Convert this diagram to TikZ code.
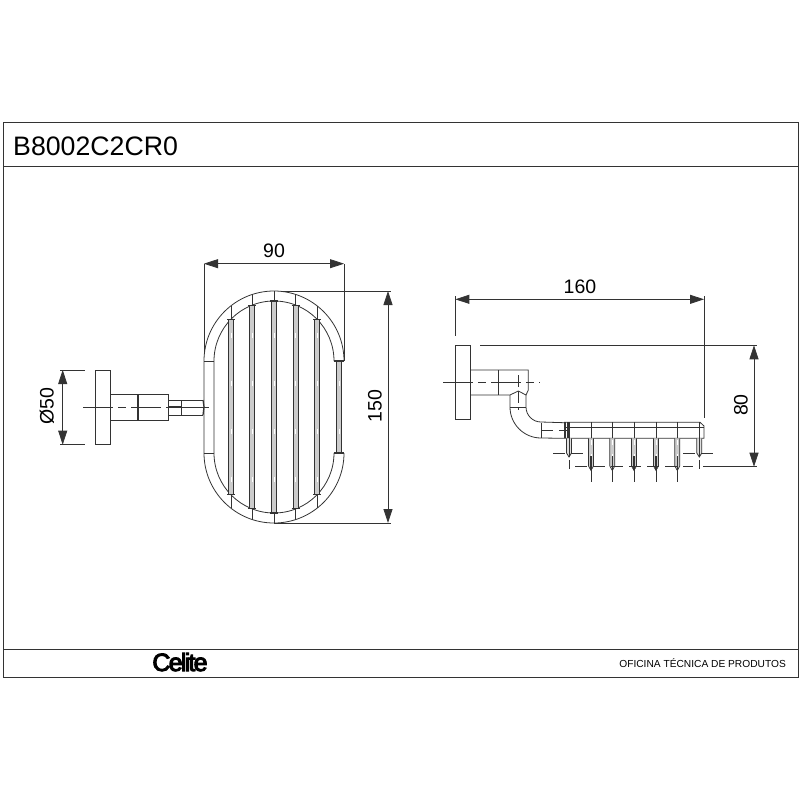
\documentclass[tikz,border=0pt]{standalone}
\usepackage{fontspec}
\usepackage{tikz}
\usetikzlibrary{arrows.meta}
\setmainfont{Liberation Sans}
\newfontfamily\logofont[FakeBold=4,LetterSpace=-7]{Liberation Sans}

\definecolor{inkline}{HTML}{333333}
\tikzset{
	part/.style={draw=inkline,line width=0.8pt},
	heavy/.style={draw=inkline,line width=1.2pt},
	dimline/.style={draw=inkline,line width=0.8pt,{Triangle[length=14pt,width=9pt]}-{Triangle[length=14pt,width=9pt]}},
	extline/.style={draw=inkline,line width=0.8pt},
	centerline/.style={draw=inkline,line width=0.8pt,dash pattern=on 30pt off 5pt on 8pt off 5pt},
	hiddenline/.style={draw=inkline,line width=0.9pt,dash pattern=on 12pt off 6pt},
	dimtext/.style={inner sep=0pt,font=\fontsize{19.5}{21}\selectfont},
	rodfill/.style={fill=gray!40,draw=inkline,line width=0.7pt},
	rodmark/.style={draw=white,line width=1pt,dash pattern=on 5pt off 43pt}
}

\begin{document}
\begin{tikzpicture}[x=1pt,y=-1pt]
		\useasboundingbox (0,0) rectangle (800,800);

		\draw[part] (3,122) rectangle (798,677);
		\draw[part] (3,166) -- (798,166);
		\draw[part] (3,649) -- (798,649);
		\node[anchor=base west,inner sep=0pt,font=\fontsize{26.7}{28}\selectfont] (title) at (13,155) {B8002C2CR0};
		\node[anchor=base,inner sep=0pt,font=\fontsize{25}{26}\logofont] (logo) at (180,671) {Celite};
		\node[anchor=base east,inner sep=0pt,font=\fontsize{10.2}{11}\selectfont] (office) at (786,667) {OFICINA TÉCNICA DE PRODUTOS};

		\draw[part] (204,453) -- (204,361) arc (180:360:70);
		\draw[part] (214,453) -- (214,361) arc (180:360:60);
		\draw[part] (204,453) arc (180:0:70);
		\draw[part] (214,453) arc (180:0:60);
		\draw[part] (204,361) -- (214,361);
		\draw[part] (204,453) -- (214,453);

		\foreach \xs/\yo/\yi/\yj/\yp in {231/305.8/319.2/494.8/508.2, 252/294.4/305.2/508.8/519.6, 274/291/301/513/523, 295.5/294.4/305.2/508.8/519.6, 317/305.8/319.2/494.8/508.2}{
			\draw[rodfill] (\xs-2.5,\yi) rectangle (\xs+2.5,\yj);
			\draw[rodmark] (\xs,333) -- (\xs,\yj);
			\draw[part] (\xs,\yo) -- (\xs,\yi);
			\draw[part] (\xs,\yj) -- (\xs,\yp);
			\draw[heavy] (\xs-4,\yi) -- (\xs+4,\yi);
			\draw[heavy] (\xs-4,\yj) -- (\xs+4,\yj);
		}
		\draw[rodfill] (336.5,361) rectangle (341.5,453);
		\draw[rodmark] (339,381) -- (339,453);
		\draw[heavy] (334,361) -- (344,361);
		\draw[heavy] (334,453) -- (344,453);

		\draw[part] (95,370) rectangle (110.3,444.7);
		\draw[part] (110.3,394.7) rectangle (168,420);
		\draw[heavy] (138,394.7) -- (138,420);
		\draw[part] (168,400) -- (203,400);
		\draw[part] (168,415) -- (203,415);
		\draw[part] (181.7,400) -- (181.7,415);
		\draw[heavy] (203,400) -- (204,407) -- (203,415);
		\draw[heavy] (168,407) -- (181.7,407);
		\draw[centerline] (83,407) -- (213,407);

		\draw[extline] (60,370) -- (85,370);
		\draw[extline] (60,444.7) -- (85,444.7);
		\draw[dimline] (62.7,370) -- (62.7,444.7);
		\node[dimtext,rotate=90] (diam) at (47,406) {Ø50};

		\draw[extline] (204,264) -- (204,352);
		\draw[extline] (344,264) -- (344,361);
		\draw[dimline] (204,263.7) -- (344,263.7);
		\node[dimtext] (width) at (274,251) {90};

		\draw[extline] (283,291) -- (391,291);
		\draw[extline] (274,523) -- (391,523);
		\draw[dimline] (388,291) -- (388,523);
		\node[dimtext,rotate=90] (height) at (375,406) {150};

		\draw[part] (455.3,345.3) rectangle (470.7,419.3);
		\draw[part] (470.7,370) -- (528.3,370) -- (528.3,390) -- (526,395) -- (518.3,391) -- (510,395) -- (470.7,395);
		\draw[heavy] (498.7,370) -- (498.7,395);
		\draw[part] (510,395) -- (510,407) arc (180:90:31) -- (564,438.3);
		\draw[part] (526,395) -- (526,407) arc (180:90:15) -- (564,422.7);
		\draw[part] (510,407) -- (526,407);
		\draw[part] (541,422.7) -- (541,438.3);
		\draw[centerline] (443,382.7) -- (540,382.7);
		\draw[centerline,dash pattern=on 12pt off 4pt] (518.3,375) -- (518.3,410);
		\draw[hiddenline] (541,430) -- (570,430);

		\draw[part] (564,422.3) -- (700,422.3) -- (704,426) -- (704,438.3) -- (564,438.3);
		\draw[part] (564,427.7) -- (704,427.7);
		\draw[heavy] (565,422.3) -- (565,438.3);
		\draw[heavy] (568,422.3) -- (568,438.3);

		\foreach \xp in {591,612.3,634,656,677.3}{
			\draw[rodfill] (\xp-2.5,438.3) -- (\xp-2.5,466) -- (\xp,470.5) -- (\xp+2.5,466) -- (\xp+2.5,438.3);
			\draw[part] (\xp,422.3) -- (\xp,438.3);
			\draw[rodmark,dash pattern=on 5pt off 9pt] (\xp,440) -- (\xp,458);
			\draw[heavy] (\xp,456) -- (\xp,470);
			\draw[hiddenline] (\xp,470) -- (\xp,483);
		}
		\foreach \xp in {569,699.3}{
			\draw[part,fill=gray!25] (\xp-2.5,438.3) -- (\xp-2.5,453) -- (\xp,457) -- (\xp+2.5,453) -- (\xp+2.5,438.3);
			\draw[part] (\xp,438.3) -- (\xp,457);
			\draw[part] (\xp,422.3) -- (\xp,438.3);
			\draw[part] (\xp,460) -- (\xp,469.3);
		}
		\draw[hiddenline] (553,453.3) -- (585,453.3);
		\draw[hiddenline] (683,453.3) -- (715,453.3);
		\draw[hiddenline] (575,466.7) -- (693,466.7);

		\draw[extline] (455.3,296) -- (455.3,335.7);
		\draw[extline] (704,296) -- (704,418);
		\draw[dimline] (455.3,299.3) -- (704,299.3);
		\node[dimtext] (length) at (580,287) {160};

		\draw[extline] (480,345.3) -- (757,345.3);
		\draw[extline] (703,466.7) -- (757,466.7);
		\draw[dimline] (754,345.3) -- (754,466.7);
		\node[dimtext,rotate=90] (drop) at (741,405) {80};

	\end{tikzpicture}
\end{document}
